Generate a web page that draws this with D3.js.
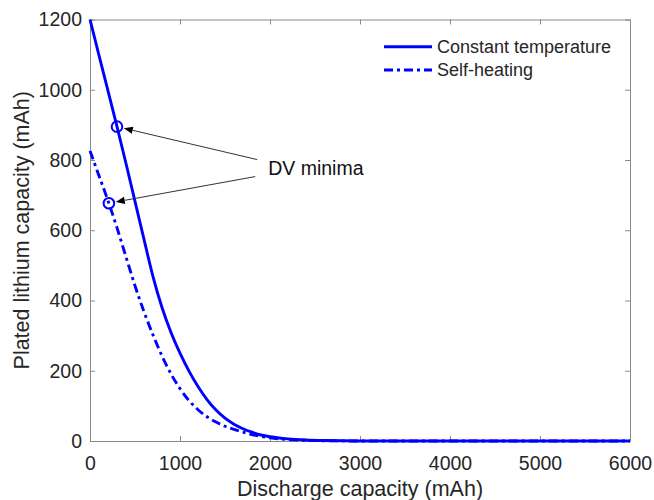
<!DOCTYPE html>
<html>
<head>
<meta charset="utf-8">
<script src="https://cdn.jsdelivr.net/npm/d3@7"></script>
<style>
  html, body { margin: 0; padding: 0; background: #fff; }
  svg { display: block; font-family: "Liberation Sans", Arial, Helvetica, sans-serif; }
</style>
</head>
<body>
<svg id="chart" width="654" height="500"></svg>
<script>
// Discharge capacity sample points (mAh)
const dischargeGrid = [0, 100, 200, 300, 400, 500, 600, 700, 800, 900, 1000, 1100, 1200, 1300, 1400,
  1500, 1600, 1700, 1800, 1900, 2000, 2100, 2200, 2400, 2600, 2800, 3000, 3500, 4000, 5000, 6000];
// Plated lithium capacity (mAh), constant temperature case
const constantTemp = [1200, 1098, 997, 895, 790, 682, 574, 468, 380, 309, 250, 199, 155, 118, 88,
  65, 48, 35, 25, 17, 12, 8.5, 6, 3, 1.4, 0.6, 0.2, 0, 0, 0, 0];
// Plated lithium capacity (mAh), self-heating case
const selfHeating = [826, 755, 684, 607, 524, 442, 368, 302, 242, 191, 149, 115, 89, 69, 54,
  42, 33, 25, 18, 13, 9, 6, 4, 2, 0.8, 0.3, 0.1, 0, 0, 0, 0];
// Differential-voltage minima on each curve
const dvMinimaX = [300, 210];
const dvMinimaY = [895, 677];

const seriesNames = ["Constant temperature", "Self-heating"];
const xTicks = [0, 1000, 2000, 3000, 4000, 5000, 6000];
const yTicks = [0, 200, 400, 600, 800, 1000, 1200];
const annotationText = "DV minima";
const annotationPos = [1980, 777];

const svg = d3.select("#chart");
const plotLeft = 90, plotRight = 630, plotTop = 19.5, plotBottom = 441;
const axisColor = "#8a8a8a", textColor = "#262626", blue = "#0000ff";

const x = d3.scaleLinear().domain([0, 6000]).range([plotLeft, plotRight]);
const y = d3.scaleLinear().domain([0, 1200]).range([plotBottom, plotTop]);

// Axes box with inward ticks on all four sides
const tickLen = 5;
const fmt = d3.format("d");
const xAxisB = d3.axisBottom(x).tickValues(xTicks).tickFormat(fmt).tickSizeInner(-tickLen).tickSizeOuter(0).tickPadding(15);
const xAxisT = d3.axisTop(x).tickValues(xTicks).tickSizeInner(-tickLen).tickSizeOuter(0).tickFormat("");
const yAxisL = d3.axisLeft(y).tickValues(yTicks).tickFormat(fmt).tickSizeInner(-tickLen).tickSizeOuter(0).tickPadding(8);
const yAxisR = d3.axisRight(y).tickValues(yTicks).tickSizeInner(-tickLen).tickSizeOuter(0).tickFormat("");

function styleAxis(g) {
  g.select(".domain").attr("stroke", axisColor).attr("stroke-width", 1);
  g.selectAll(".tick line").attr("stroke", axisColor);
  g.selectAll(".tick text").attr("fill", textColor).style("font-size", "19.5px")
    .style("font-family", "'Liberation Sans', Arial, sans-serif");
}

svg.append("g").attr("transform", `translate(0,${plotBottom})`).call(xAxisB).call(styleAxis);
svg.append("g").attr("transform", `translate(0,${plotTop})`).call(xAxisT).call(styleAxis);
svg.append("g").attr("transform", `translate(${plotLeft},0)`).call(yAxisL).call(styleAxis);
svg.append("g").attr("transform", `translate(${plotRight},0)`).call(yAxisR).call(styleAxis);

// Axis titles
svg.append("text")
  .attr("x", (plotLeft + plotRight) / 2).attr("y", 495.5)
  .attr("text-anchor", "middle").attr("fill", textColor)
  .style("font-size", "21.5px")
  .text("Discharge capacity (mAh)");
svg.append("text")
  .attr("transform", `translate(28.5,${(plotTop + plotBottom) / 2}) rotate(-90)`)
  .attr("text-anchor", "middle").attr("fill", textColor)
  .style("font-size", "21.5px")
  .text("Plated lithium capacity (mAh)");

// Curves
const line = d3.line().x(d => x(d[0])).y(d => y(d[1])).curve(d3.curveMonotoneX);
const dashDot = "9,4,3,4";
const seriesData = [constantTemp, selfHeating];
const seriesDash = [null, dashDot];
seriesData.forEach((vals, i) => {
  svg.append("path")
    .datum(dischargeGrid.map((d, j) => [d, vals[j]]))
    .attr("d", line)
    .attr("fill", "none")
    .attr("stroke", blue)
    .attr("stroke-width", 2.9)
    .attr("stroke-dasharray", seriesDash[i]);
});

// DV minima markers
svg.selectAll("circle.dv")
  .data(dvMinimaX.map((d, i) => [d, dvMinimaY[i]]))
  .join("circle")
  .attr("class", "dv")
  .attr("cx", d => x(d[0])).attr("cy", d => y(d[1]))
  .attr("r", 5.3)
  .attr("fill", "none").attr("stroke", blue).attr("stroke-width", 2);

// Annotation text and arrows
const ax = x(annotationPos[0]), ay = y(annotationPos[1]);
svg.append("text")
  .attr("x", ax).attr("y", ay).attr("dy", "0.36em")
  .attr("fill", "#111").style("font-size", "19.5px")
  .text(annotationText);

const arrowStarts = [[ax - 11, ay - 8.5], [ax - 13, ay + 8.5]];
dvMinimaX.forEach((d, i) => {
  const cx = x(d), cy = y(dvMinimaY[i]);
  const [sx, sy] = arrowStarts[i];
  const dx = sx - cx, dy = sy - cy, len = Math.hypot(dx, dy);
  const ux = dx / len, uy = dy / len;
  const tx = cx + 7 * ux, ty = cy + 7 * uy;       // arrow tip just outside the marker
  const bx = tx + 9 * ux, by = ty + 9 * uy;       // base of the head
  const px = -uy * 3.6, py = ux * 3.6;
  svg.append("line")
    .attr("x1", sx).attr("y1", sy).attr("x2", bx).attr("y2", by)
    .attr("stroke", "#333").attr("stroke-width", 1);
  svg.append("path")
    .attr("d", `M${tx},${ty}L${bx + px},${by + py}L${bx - px},${by - py}Z`)
    .attr("fill", "#000");
});

// Legend
const legendX = 384, legendY = 46.7, legendGap = 23.3;
seriesNames.forEach((name, i) => {
  const ly = legendY + i * legendGap;
  svg.append("line")
    .attr("x1", legendX).attr("x2", legendX + 48)
    .attr("y1", ly).attr("y2", ly)
    .attr("stroke", blue).attr("stroke-width", 2.9)
    .attr("stroke-dasharray", seriesDash[i]);
  svg.append("text")
    .attr("x", legendX + 53).attr("y", ly).attr("dy", "0.36em")
    .attr("fill", textColor).style("font-size", "18px")
    .text(name);
});
</script>
</body>
</html>
